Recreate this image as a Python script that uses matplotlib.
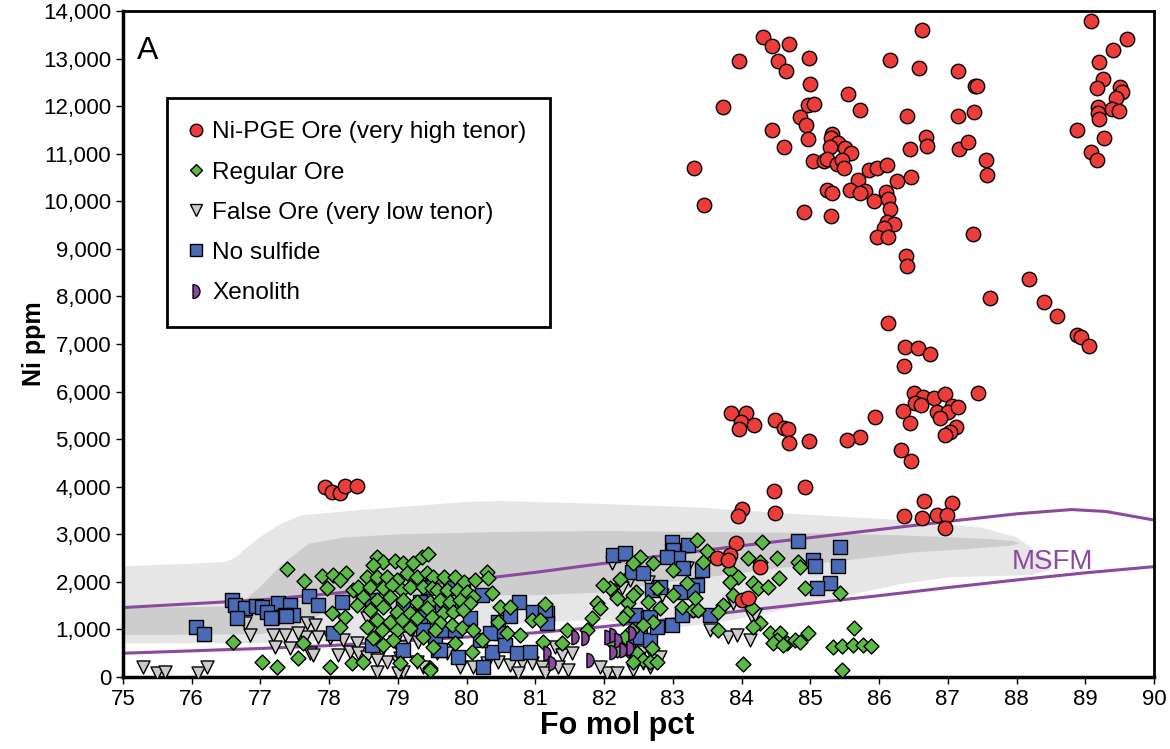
import numpy as np
import matplotlib
matplotlib.use("Agg")
import matplotlib.pyplot as plt
from matplotlib.path import Path
from matplotlib.lines import Line2D
from matplotlib.ticker import FuncFormatter, MultipleLocator

plt.rcParams['font.family'] = ['Liberation Sans', 'DejaVu Sans']

# Fo (mol pct), Ni (ppm)
ore = [
    (77.94, 4000), (78.04, 3890), (78.16, 3870), (78.23, 4010), (78.40, 4010),
    (84.31, 13450), (84.44, 13260), (84.69, 13310), (83.96, 12950), (84.53, 12950), (84.65, 12740),
    (84.98, 13010), (85.00, 12470), (83.73, 11980), (84.97, 12020), (85.05, 12040), (84.85, 11770),
    (84.94, 11600), (84.44, 11500), (84.97, 11310), (84.62, 11140), (83.31, 10700), (83.45, 9920),
    (84.91, 9770), (85.30, 9690), (85.55, 12250), (85.72, 11920), (85.32, 11410), (85.30, 11330),
    (85.40, 11220), (85.29, 11140), (85.50, 11120), (85.59, 11010), (85.04, 10850), (85.20, 10850),
    (85.24, 10890), (85.39, 10780), (85.46, 10870), (85.49, 10700), (85.85, 10660), (85.97, 10700),
    (86.12, 10760), (85.69, 10450), (85.58, 10240), (85.80, 10220), (85.72, 10170), (85.93, 10010),
    (86.10, 10190), (86.13, 10050), (86.16, 9840), (86.26, 10430), (86.47, 10510), (86.41, 11790),
    (86.16, 12970), (86.63, 13600), (86.58, 12800), (85.24, 10240), (85.32, 10170), (86.12, 9560),
    (86.22, 9520), (86.07, 9440), (85.97, 9250), (86.13, 9250), (86.68, 11350), (86.70, 11160),
    (86.45, 11100), (87.15, 12740), (87.15, 11790), (87.16, 11100),
    (89.08, 13790), (89.61, 13410), (89.40, 13180), (89.20, 12930), (87.40, 12420), (87.43, 12420),
    (89.26, 12570), (89.17, 12380), (89.51, 12400), (89.54, 12300), (89.45, 12170), (87.38, 11880),
    (89.19, 11980), (89.19, 11860), (89.20, 11730), (89.39, 11940), (89.49, 11900), (87.29, 11250),
    (88.88, 11500), (89.27, 11330), (89.08, 11040), (89.17, 10870), (87.56, 10870), (87.57, 10550),
    (87.37, 9310), (87.61, 7970), (88.18, 8370), (88.40, 7880), (88.59, 7590), (88.88, 7190),
    (88.94, 7150), (89.05, 6960),
    (86.39, 8850), (86.41, 8640), (86.13, 7440), (86.38, 6940), (86.57, 6920), (86.74, 6790),
    (86.36, 6540), (86.51, 5970), (86.64, 5890), (86.80, 5860), (86.96, 5950), (87.06, 5700),
    (86.52, 5760), (86.61, 5720), (86.35, 5590), (86.84, 5570), (87.00, 5570), (87.15, 5680),
    (86.89, 5440), (86.45, 5340), (87.12, 5260), (87.03, 5150), (86.96, 5090), (87.44, 5970),
    (85.94, 5470), (85.72, 5040), (86.32, 4770), (86.47, 4540), (83.85, 5550), (84.06, 5550),
    (83.99, 5360), (83.96, 5210), (84.18, 5300), (84.49, 5400), (84.62, 5230), (84.68, 5210),
    (84.69, 4920), (84.98, 4960), (85.53, 4980), (84.47, 3910), (84.92, 3990), (84.01, 3530),
    (83.95, 3380), (84.49, 3450), (86.36, 3380), (86.65, 3700), (87.06, 3660), (86.63, 3340),
    (86.84, 3410), (86.99, 3410), (86.96, 3130), (83.92, 2820), (83.83, 2560), (83.64, 2500),
    (83.80, 2460), (84.27, 2310), (84.01, 1620), (84.09, 1660),
]

regular = [
    (76.60, 740), (77.39, 2270), (77.63, 2020), (77.90, 2120), (78.06, 2140), (78.24, 2190),
    (78.16, 2040), (77.97, 1870), (78.35, 1830), (77.02, 320), (77.24, 210), (77.55, 400),
    (77.62, 710), (78.04, 1350), (78.23, 1260), (78.16, 1050), (78.01, 210), (78.33, 290),
    (78.70, 2520), (78.78, 2420), (78.96, 2440), (79.07, 2400), (79.22, 2400), (79.35, 2520),
    (79.44, 2590), (78.64, 2350), (78.55, 2100), (78.70, 2100), (78.84, 2100), (78.99, 2040),
    (79.13, 2190), (79.28, 2100), (79.42, 2190), (79.51, 2100), (78.42, 1890), (78.59, 1890),
    (78.78, 1870), (78.91, 1930), (79.06, 1830), (79.18, 1890), (79.37, 1890), (79.50, 1870),
    (78.49, 1680), (78.70, 1620), (78.88, 1680), (79.07, 1620), (79.28, 1580), (79.47, 1580),
    (78.40, 1510), (78.59, 1410), (78.78, 1470), (78.99, 1370), (79.18, 1350), (79.42, 1450),
    (78.70, 1200), (78.88, 1160), (79.06, 1200), (79.28, 1240), (79.50, 1260), (78.55, 1050),
    (78.77, 990), (78.99, 990), (79.18, 1030), (78.93, 780), (78.78, 670), (79.37, 840),
    (79.51, 630), (78.49, 320), (79.03, 290), (79.28, 360), (79.47, 190), (78.64, 820),
    (79.67, 2100), (79.83, 2100), (79.96, 2000), (80.12, 2040), (80.30, 2210), (80.31, 2080),
    (80.37, 1770), (79.57, 1830), (79.71, 1830), (79.86, 1830), (80.01, 1790), (80.09, 1680),
    (79.61, 1620), (79.76, 1580), (79.90, 1620), (80.05, 1560), (79.66, 1350), (79.80, 1370),
    (79.95, 1410), (79.61, 1140), (79.79, 1090), (79.93, 1030), (80.09, 990), (79.54, 990),
    (80.49, 1470), (80.63, 1470), (80.46, 1160), (80.59, 920), (80.22, 780), (79.83, 710),
    (80.08, 530), (80.78, 880), (80.95, 1200), (81.07, 1200), (81.14, 1530), (81.11, 740),
    (81.39, 710), (81.46, 990), (81.82, 1240), (81.75, 990), (81.90, 1560), (81.94, 1450),
    (79.47, 150), (82.23, 2060), (82.52, 2520), (82.71, 2400), (82.42, 2400), (82.46, 1790),
    (82.19, 1660), (82.35, 1560), (82.09, 1870), (81.98, 1930), (82.33, 1350), (82.28, 1240),
    (82.64, 1580), (82.71, 1160), (82.41, 990), (82.11, 740), (82.19, 570), (82.30, 840),
    (82.57, 1090), (82.35, 570), (82.48, 500), (82.57, 360), (82.70, 610), (82.77, 1870),
    (82.81, 1450), (82.42, 1720), (83.00, 2250), (83.21, 1980), (83.35, 2880), (83.00, 1720),
    (83.13, 1470), (83.29, 1410), (82.42, 320), (82.67, 320), (82.77, 320),
    (83.50, 2650), (83.44, 2420), (84.30, 2840), (84.09, 2500), (84.27, 2420), (84.52, 2500),
    (83.83, 2250), (83.95, 2100), (83.83, 2000), (84.17, 1980), (84.24, 1870), (84.38, 1890),
    (84.55, 2080), (84.82, 2420), (84.85, 2310), (84.92, 1870), (85.43, 1770), (83.32, 1660),
    (83.37, 1410), (83.73, 1510), (83.66, 1370), (83.88, 1720), (84.15, 1450), (84.27, 1140),
    (84.17, 1050), (83.66, 990), (84.41, 920), (84.56, 920), (84.52, 780), (84.66, 710),
    (84.78, 780), (84.97, 920), (84.85, 740), (84.46, 710), (84.60, 670), (85.33, 630),
    (85.46, 650), (85.62, 670), (85.77, 670), (85.88, 650), (85.63, 1030), (84.02, 270),
    (85.46, 150),
]

false_ore = [
    (75.29, 210), (75.49, 80), (75.61, 110), (76.09, 80), (76.22, 210), (76.78, 1140),
    (76.85, 880), (77.18, 880), (77.36, 880), (77.43, 610), (77.21, 630), (77.68, 1140),
    (77.79, 1090), (77.65, 840), (77.84, 840), (77.72, 500), (78.01, 820), (78.20, 780),
    (78.30, 530), (78.40, 710), (78.55, 1240), (78.70, 740), (78.77, 570), (78.93, 1510),
    (78.84, 320), (79.00, 320), (79.07, 630), (78.70, 110), (79.07, 110), (77.55, 920),
    (77.76, 460), (78.13, 460), (78.42, 500), (78.96, 740), (79.15, 820), (79.29, 740),
    (79.47, 840), (78.55, 420), (78.70, 360), (79.03, 400), (79.28, 320), (79.37, 210),
    (79.00, 80), (79.57, 500), (79.71, 500), (79.90, 210), (80.09, 210), (80.30, 290),
    (80.46, 320), (80.63, 250), (80.81, 290), (80.95, 290), (80.75, 80), (81.10, 210),
    (81.14, 80), (81.29, 630), (81.39, 460), (81.33, 210), (81.47, 150), (81.53, 500),
    (82.12, 2400), (82.48, 2190), (82.38, 2040), (82.09, 1830), (82.26, 1870), (82.64, 2000),
    (82.19, 570), (82.38, 500), (82.45, 320), (82.57, 290), (82.67, 210), (82.04, 80),
    (82.19, 80), (82.13, 1790), (82.84, 1720), (82.55, 530), (82.71, 420), (82.81, 420),
    (81.94, 210), (82.42, 150), (83.21, 2290), (83.88, 1560), (84.12, 1560), (84.15, 1260),
    (83.54, 990), (83.80, 840), (83.93, 880), (84.12, 780), (84.20, 1300),
]

no_sulfide = [
    (76.06, 1050), (76.18, 900), (76.59, 1620), (76.63, 1510), (76.78, 1450), (76.66, 1240),
    (76.94, 1490), (77.02, 1470), (77.17, 1260), (77.26, 1560), (77.43, 1510), (77.47, 1300),
    (77.36, 1300), (77.71, 1700), (77.84, 1510), (78.19, 1580), (78.62, 1620), (79.07, 1450),
    (79.07, 570), (78.62, 670), (78.06, 920), (77.10, 1370), (77.15, 1240), (77.37, 1280),
    (79.32, 1580), (79.32, 1260), (79.44, 1890), (79.37, 990), (79.54, 840), (79.64, 1450),
    (79.76, 1870), (79.87, 1450), (79.95, 1930), (80.22, 1720), (80.05, 1240), (79.66, 990),
    (79.58, 570), (79.83, 990), (79.87, 420), (80.24, 210), (80.37, 530), (80.19, 780),
    (80.46, 1160), (80.63, 1280), (80.76, 1580), (80.97, 1370), (81.17, 1350), (81.17, 1140),
    (80.49, 920), (80.56, 670), (80.73, 500), (80.92, 530), (82.13, 2560), (82.30, 2610),
    (82.41, 2210), (82.57, 2190), (82.70, 1830), (82.45, 1300), (82.64, 1240), (82.35, 780),
    (82.52, 840), (82.67, 780), (82.99, 2840), (83.00, 2670), (83.22, 2770), (83.08, 2500),
    (82.92, 2520), (83.15, 2290), (83.35, 1930), (82.81, 1890), (82.67, 1260), (82.77, 1050),
    (82.99, 1090), (83.13, 1300), (83.28, 1830), (83.10, 1790), (79.61, 570), (80.34, 920),
    (81.14, 1410), (83.42, 2250), (83.54, 1300), (84.82, 2860), (85.04, 2460), (85.07, 2330),
    (85.43, 2730), (85.40, 2330), (85.29, 1980), (85.10, 1870),
]

xenolith = [
    (81.58, 840), (81.72, 820), (81.17, 500), (81.24, 290), (81.79, 360), (82.06, 840),
    (82.13, 880), (82.20, 780), (82.28, 570), (82.38, 610), (82.13, 530), (82.41, 920),
]

# MSFM envelope curves
msfm_hi_fo = [75, 76, 77, 78, 79, 80, 81, 82, 83, 84, 85, 86, 87, 88, 88.8, 89.3, 90]
msfm_hi_ni = [1460, 1540, 1620, 1750, 1890, 2030, 2200, 2390, 2580, 2760, 2930, 3100, 3270, 3430, 3520, 3480, 3300]
msfm_lo_fo = [75, 76, 77, 78, 79, 80, 81, 82, 83, 84, 85, 86, 87, 88, 89, 90]
msfm_lo_ni = [500, 550, 600, 660, 750, 840, 930, 1060, 1220, 1390, 1550, 1710, 1880, 2040, 2190, 2320]

# shaded fields (outer light, inner dark)
outer_fo = [75, 76.0, 76.5, 76.65, 76.8, 77.0, 77.3, 77.6, 78.45, 80.0, 80.5, 81.94, 83.4, 84.85, 86.3,
            87.47, 88.0, 88.2, 88.42, 88.53, 88.49, 88.2, 87.03, 86.3, 85.24, 84.5, 83.8, 83.1,
            82.5, 82.0, 81.0, 80.0, 79.0, 78.0, 77.0, 75]
outer_ni = [2330, 2380, 2420, 2520, 2720, 2950, 3220, 3400, 3510, 3680, 3700, 3640, 3560, 3420, 3300,
            3150, 2940, 2730, 2500, 2400, 2250, 2140, 2100, 1950, 1620, 1380, 1180, 1050,
            1080, 1200, 1150, 1000, 850, 750, 710, 710]
inner_fo = [75, 76.5, 76.8, 77.0, 77.3, 77.7, 78.2, 79, 80.5, 82, 83.4, 84.85, 86.3, 87.0, 87.6,
            87.95, 88.05, 87.9, 87.3, 86.5, 85.5, 84.5, 83.5, 83.0, 82.0, 81.0, 80.0, 79.0, 78.5,
            78.0, 77.5, 77.0, 75]
inner_ni = [1450, 1480, 1650, 1900, 2350, 2800, 2930, 3000, 3050, 3070, 3050, 3030, 2980, 2940, 2900,
            2860, 2810, 2760, 2690, 2620, 2450, 2280, 2100, 2000, 1780, 1720, 1720, 1720, 1650,
            1400, 1050, 900, 880]

ore = np.array(ore)
regular = np.array(regular)
false_ore = np.array(false_ore)
no_sulfide = np.array(no_sulfide)
xenolith = np.array(xenolith)

# right half disc marker for xenoliths
arc = Path.arc(-90, 90)
verts = np.vstack([arc.vertices, arc.vertices[:1]]) - [0.5, 0]
codes = list(arc.codes) + [Path.CLOSEPOLY]
half_disc = Path(verts, codes)

c_red = '#EC3D3A'
c_green = '#5DB947'
c_blue = '#4A6CB6'
c_grey = '#CBCBCB'
c_purple = '#8B4A9F'

fig = plt.figure(figsize=(11.7, 7.49), dpi=100)
ax = fig.add_axes([0.1051, 0.0961, 0.8812, 0.8892])

ax.fill(outer_fo, outer_ni, color='#E6E6E6', lw=0, zorder=1)
ax.fill(inner_fo, inner_ni, color='#CDCDCD', lw=0, zorder=1.1)

ax.plot(msfm_hi_fo, msfm_hi_ni, color=c_purple, lw=2.2, zorder=2)
ax.plot(msfm_lo_fo, msfm_lo_ni, color=c_purple, lw=2.2, zorder=2)
ax.text(88.53, 2420, 'MSFM', color=c_purple, fontsize=20, ha='center', va='center', zorder=2)

ec = dict(edgecolors='black', linewidths=1.0)
ax.scatter(false_ore[:, 0], false_ore[:, 1], marker='v', s=88, c=c_grey, zorder=3, **ec)
ax.scatter(no_sulfide[:, 0], no_sulfide[:, 1], marker='s', s=105, c=c_blue, zorder=4, **ec)
ax.scatter(regular[:, 0], regular[:, 1], marker='D', s=58, c=c_green, zorder=5, **ec)
ax.scatter(xenolith[:, 0], xenolith[:, 1], marker=half_disc, s=105, c=c_purple, zorder=6, **ec)
ax.scatter(ore[:, 0], ore[:, 1], marker='o', s=108, c=c_red, zorder=7, **ec)

ax.set_xlim(75, 90)
ax.set_ylim(0, 14000)
ax.xaxis.set_major_locator(MultipleLocator(1))
ax.yaxis.set_major_locator(MultipleLocator(1000))
ax.yaxis.set_major_formatter(FuncFormatter(lambda v, p: f"{int(v):,}"))
ax.tick_params(axis='both', labelsize=16, length=5, width=1, direction='out')
for side in ['left', 'bottom']:
    ax.spines[side].set_linewidth(2.5)
for side in ['top', 'right']:
    ax.spines[side].set_linewidth(2.0)

ax.text(0.479, -0.0736, 'Fo mol pct', transform=ax.transAxes, fontsize=22, fontweight='bold',
        ha='center', va='center')
ax.set_ylabel('Ni ppm', fontsize=18, fontweight='bold', labelpad=-2)
ax.text(0.014, 0.94, 'A', transform=ax.transAxes, fontsize=23, ha='left', va='center')

handles = [
    Line2D([], [], ls='', marker='o', ms=9, mfc=c_red, mec='black', mew=1.0),
    Line2D([], [], ls='', marker='D', ms=6.5, mfc=c_green, mec='black', mew=1.0),
    Line2D([], [], ls='', marker='v', ms=9, mfc=c_grey, mec='black', mew=1.0),
    Line2D([], [], ls='', marker='s', ms=9, mfc=c_blue, mec='black', mew=1.0),
    Line2D([], [], ls='', marker=half_disc, ms=10, mfc=c_purple, mec='black', mew=1.0),
]
labels = ['Ni-PGE Ore (very high tenor)', 'Regular Ore', 'False Ore (very low tenor)',
          'No sulfide', 'Xenolith']
leg = ax.legend(handles, labels, loc='upper left', bbox_to_anchor=(0.0427, 0.8694),
                borderaxespad=0, fontsize=17.6, frameon=True, fancybox=False,
                edgecolor='black', framealpha=1, labelspacing=0.74, handlelength=0.45,
                handletextpad=0.45, borderpad=0.95)
leg.get_frame().set_linewidth(2.0)
leg.set_zorder(10)

fig.savefig('out.png', dpi=100)
